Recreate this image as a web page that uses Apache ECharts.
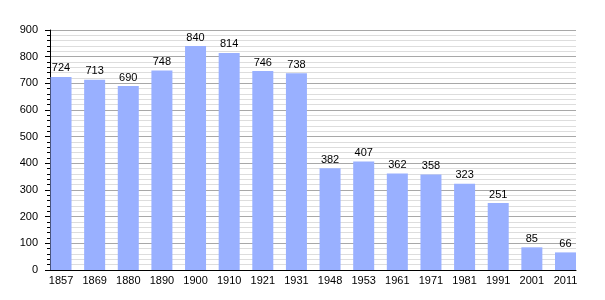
<!DOCTYPE html>
<html><head><meta charset="utf-8">
<script src="https://cdn.jsdelivr.net/npm/echarts@6/dist/echarts.min.js"></script>
<style>html,body{margin:0;padding:0;background:#fff}#c{width:605px;height:300px}</style>
</head><body><div id="c"></div>
<script>
const categories = ['1857','1869','1880','1890','1900','1910','1921','1931','1948','1953','1961','1971','1981','1991','2001','2011'];
const population = [724,713,690,748,840,814,746,738,382,407,362,358,323,251,85,66];
const yTicks = [0,100,200,300,400,500,600,700,800,900];

const chart = echarts.init(document.getElementById('c'), null, {renderer:'canvas'});
const font = 'Liberation Sans, Arial, sans-serif';
chart.setOption({
  animation:false,
  backgroundColor:'#fff',
  grid:[
    {left:50, right:29, top:30, bottom:30},
    {left:44.2, right:22.7, top:30, bottom:30}
  ],
  xAxis:[
    {gridIndex:0, type:'category', data:categories, axisLine:{lineStyle:{color:'#000',width:1}},
     axisTick:{show:false}, axisLabel:{show:false}, splitLine:{show:false}},
    {gridIndex:1, type:'category', data:categories, axisLine:{show:false}, axisTick:{show:false},
     axisLabel:{color:'#000', fontSize:11, fontFamily:font, margin:5}}
  ],
  yAxis:[
    {gridIndex:0, type:'value', min:0, max:900, interval:100,
     axisLine:{show:true, lineStyle:{color:'#000'}},
     axisTick:{show:true, length:5, lineStyle:{color:'#000'}},
     minorTick:{show:true, splitNumber:5, length:3, lineStyle:{color:'#000'}},
     axisLabel:{color:'#000', fontSize:11, fontFamily:font, margin:12,
       formatter:v=>yTicks.includes(v)?String(v):''},
     splitLine:{show:true, lineStyle:{color:'#a8a8a8', width:1}},
     minorSplitLine:{show:true, lineStyle:{color:'#dddddd', width:1}}},
    {gridIndex:1, type:'value', min:0, max:900, show:false, splitLine:{show:false}}
  ],
  series:[{
    type:'bar', xAxisIndex:1, yAxisIndex:1, data:population, barWidth:21,
    itemStyle:{color:'#99b0ff'},
    label:{show:true, position:'top', distance:3, color:'#000', fontSize:11, fontFamily:font}
  }]
});
</script></body></html>
